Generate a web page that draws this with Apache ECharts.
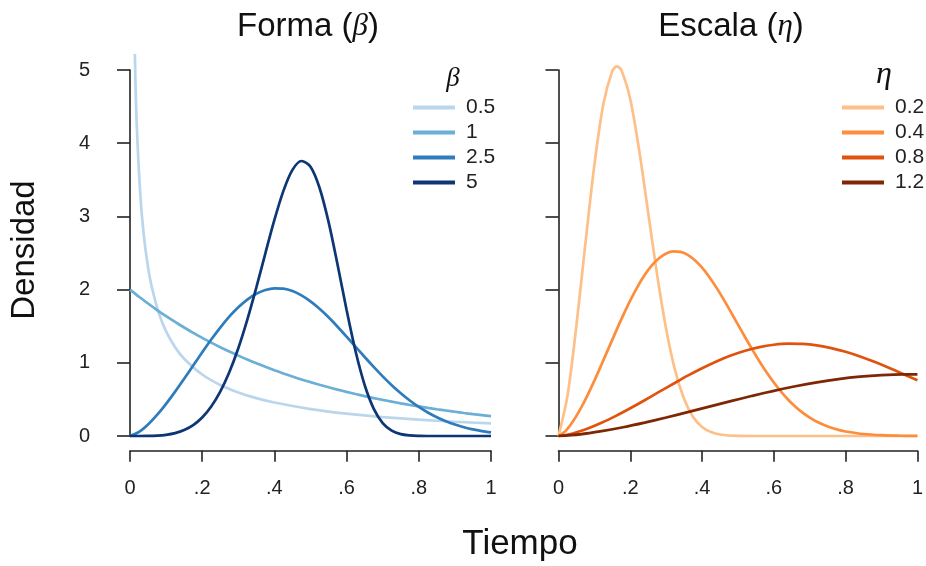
<!DOCTYPE html>
<html>
<head>
<meta charset="utf-8">
<script src="https://cdn.jsdelivr.net/npm/echarts@6/dist/echarts.min.js"></script>
<style>
html,body{margin:0;padding:0;background:#fff;}
#chart{width:926px;height:566px;}
</style>
</head>
<body>
<div id="chart"></div>
<script>
// ---- tick labels ----
const xTickLabels = ['0', '.2', '.4', '.6', '.8', '1'];
const yTickLabels = ['0', '1', '2', '3', '4', '5'];

// ---- legend names ----
const betaNames = ['0.5', '1', '2.5', '5'];
const etaNames = ['0.2', '0.4', '0.8', '1.2'];

// ---- left panel (Forma) ----
const gridX = [0,0.025,0.05,0.075,0.1,0.125,0.15,0.175,0.2,0.225,0.25,0.275,0.3,0.325,0.35,0.375,0.4,0.425,0.45,0.475,0.5,0.525,0.55,0.575,0.6,0.625,0.65,0.675,0.7,0.725,0.75,0.775,0.8,0.825,0.85,0.875,0.9,0.925,0.95,0.975,1];
const b05X = [0.01,0.015,0.02,0.03,0.04,0.05,0.06,0.08,0.1,0.125,0.15,0.2,0.25,0.3,0.35,0.4,0.5,0.6,0.7,0.8,0.9,1.0];
const b05Y = [6.139,4.855,4.094,3.195,2.665,2.305,2.042,1.676,1.430,1.213,1.056,0.840,0.697,0.595,0.518,0.457,0.368,0.305,0.259,0.223,0.195,0.172];
const b1Y = [2.000,1.902,1.810,1.721,1.637,1.558,1.482,1.409,1.341,1.275,1.213,1.154,1.098,1.044,0.993,0.945,0.899,0.855,0.813,0.773,0.736,0.700,0.666,0.633,0.602,0.573,0.545,0.518,0.493,0.469,0.446,0.424,0.404,0.384,0.365,0.348,0.331,0.314,0.299,0.285,0.271];
const b25Y = [0,0.056,0.158,0.288,0.439,0.606,0.782,0.963,1.143,1.318,1.481,1.630,1.758,1.864,1.943,1.995,2.018,2.013,1.980,1.921,1.839,1.738,1.622,1.493,1.357,1.218,1.079,0.944,0.815,0.694,0.584,0.485,0.397,0.321,0.256,0.201,0.156,0.120,0.090,0.067,0.049];
const b5Y = [0,0.000,0.001,0.005,0.016,0.039,0.081,0.149,0.253,0.403,0.606,0.870,1.199,1.590,2.030,2.496,2.952,3.349,3.635,3.757,3.679,3.392,2.925,2.340,1.722,1.154,0.697,0.375,0.177,0.073,0.025,0.008,0.002,0,0,0,0,0,0,0,0];

// ---- right panel (Escala) ----
const e02X = [0,0.025,0.05,0.075,0.1,0.125,0.15,0.1625,0.175,0.2,0.225,0.25,0.275,0.3,0.325,0.35,0.375,0.4,0.425,0.45,0.5,0.6,0.7,0.8,0.9,1.0];
const e02Y = [0,0.549,1.514,2.634,3.703,4.535,4.988,5.049,4.999,4.598,3.896,3.045,2.196,1.460,0.894,0.504,0.260,0.124,0.054,0.021,0.003,0,0,0,0,0];
const e04X = [0,0.02,0.04,0.06,0.08,0.1,0.12,0.14,0.16,0.18,0.2,0.22,0.24,0.26,0.28,0.3,0.32,0.34,0.36,0.38,0.4,0.42,0.44,0.46,0.48,0.5,0.52,0.54,0.56,0.58,0.6,0.62,0.64,0.66,0.68,0.7,0.72,0.74,0.76,0.78,0.8,0.85,0.9,0.95,1.0];
const e04Y = [0,0.070,0.197,0.360,0.549,0.757,0.978,1.204,1.429,1.647,1.852,2.037,2.198,2.330,2.429,2.494,2.523,2.516,2.475,2.401,2.299,2.173,2.027,1.866,1.696,1.522,1.349,1.180,1.018,0.868,0.730,0.606,0.496,0.401,0.320,0.252,0.195,0.150,0.113,0.084,0.062,0.027,0.011,0.004,0.001];
const e08X = [0,0.04,0.08,0.12,0.16,0.2,0.24,0.28,0.32,0.36,0.4,0.44,0.48,0.52,0.56,0.6,0.64,0.68,0.72,0.76,0.8,0.84,0.88,0.92,0.96,1.0];
const e08Y = [0,0.035,0.099,0.180,0.275,0.379,0.489,0.602,0.714,0.824,0.926,1.019,1.099,1.165,1.215,1.247,1.262,1.258,1.237,1.201,1.150,1.086,1.013,0.933,0.848,0.761];
const e12X = [0,0.06,0.12,0.18,0.24,0.3,0.36,0.42,0.48,0.54,0.6,0.66,0.72,0.78,0.84,0.9,0.96,1.0];
const e12Y = [0,0.023,0.066,0.120,0.183,0.252,0.326,0.401,0.476,0.549,0.617,0.679,0.733,0.777,0.810,0.831,0.841,0.841];

const blues = ['#bad6ec', '#6baed6', '#2e7cbc', '#0d3674'];
const oranges = ['#fdc088', '#fd8d3c', '#df530e', '#7f2704'];

const SANS = "'Liberation Sans', Arial, Helvetica, sans-serif";
const SERIF = "'Liberation Serif', 'DejaVu Serif', serif";
const INK = '#222';

function pairs(xs, ys) { return xs.map((x, i) => [x, ys[i]]); }

const leftSets = [[b05X, b05Y], [gridX, b1Y], [gridX, b25Y], [gridX, b5Y]];
const rightSets = [[e02X, e02Y], [e04X, e04Y], [e08X, e08Y], [e12X, e12Y]];

const dataTop = 55.36, dataH = 395.28;
const axisTop = 70, axisH = 366;
const panels = [{ left: 130, width: 361 }, { left: 558.5, width: 360 }];

const grids = [], xAxes = [], yAxes = [];
panels.forEach((p, i) => {
  grids.push({ left: p.left, width: p.width, top: dataTop, height: dataH });
  grids.push({ left: p.left, width: p.width, top: axisTop, height: axisH });
  xAxes.push({
    gridIndex: 2 * i, type: 'value', min: 0, max: 1, interval: 0.2,
    axisLine: { onZero: false, lineStyle: { color: INK, width: 1.6 } },
    axisTick: { length: 11, lineStyle: { color: INK, width: 1.6 } },
    axisLabel: { margin: 28, fontSize: 20, color: INK, fontFamily: SANS,
      formatter: v => xTickLabels[Math.round(v / 0.2)] },
    splitLine: { show: false }
  });
  xAxes.push({ gridIndex: 2 * i + 1, type: 'value', min: 0, max: 1, show: false });
  yAxes.push({ gridIndex: 2 * i, type: 'value', min: -0.2, max: 5.2, show: false });
  yAxes.push({
    gridIndex: 2 * i + 1, type: 'value', min: 0, max: 5, interval: 1,
    offset: i === 0 ? 14 : 15,
    axisLine: { show: true, lineStyle: { color: INK, width: 1.6 } },
    axisTick: { show: true, length: 13, lineStyle: { color: INK, width: 1.6 } },
    axisLabel: { show: i === 0, margin: 26, fontSize: 20, color: INK, fontFamily: SANS,
      formatter: v => yTickLabels[Math.round(v)] },
    splitLine: { show: false }
  });
});

const series = [];
leftSets.forEach((s, i) => {
  series.push({
    name: betaNames[i], type: 'line', xAxisIndex: 0, yAxisIndex: 0,
    data: pairs(s[0], s[1]), showSymbol: false, symbol: 'none', smooth: 0.3,
    color: blues[i], lineStyle: { width: 2.7, color: blues[i] }, clip: true
  });
});
rightSets.forEach((s, i) => {
  series.push({
    name: etaNames[i], type: 'line', xAxisIndex: 2, yAxisIndex: 2,
    data: pairs(s[0], s[1]), showSymbol: false, symbol: 'none', smooth: 0.3,
    color: oranges[i], lineStyle: { width: 2.7, color: oranges[i] }, clip: true
  });
});

const legendCommon = {
  orient: 'vertical', icon: 'rect', itemWidth: 42, itemHeight: 4, itemGap: 4,
  padding: 0, selectedMode: false,
  textStyle: { fontSize: 21, lineHeight: 21, color: INK, fontFamily: SANS, padding: [0, 0, 0, 6] }
};

const chart = echarts.init(document.getElementById('chart'), null, { renderer: 'canvas' });
chart.setOption({
  animation: false,
  backgroundColor: '#fff',
  grid: grids,
  xAxis: xAxes,
  yAxis: yAxes,
  legend: [
    Object.assign({ data: betaNames, left: 413, top: 97 }, legendCommon),
    Object.assign({ data: etaNames, left: 842, top: 97 }, legendCommon)
  ],
  series: series,
  graphic: [
    { type: 'text', x: 308, y: 27, style: {
      text: '{t|Forma }{p|(}{g|β}{p|)}', align: 'center', verticalAlign: 'middle',
      rich: { t: { fontSize: 33, fontFamily: SANS, fill: '#111' },
              p: { fontSize: 33, fontFamily: SANS, fill: '#111' },
              g: { fontSize: 31, fontFamily: SERIF, fontStyle: 'italic', fill: '#111' } } } },
    { type: 'text', x: 731, y: 27, style: {
      text: '{t|Escala }{p|(}{g|η}{p|)}', align: 'center', verticalAlign: 'middle',
      rich: { t: { fontSize: 33, fontFamily: SANS, fill: '#111' },
              p: { fontSize: 33, fontFamily: SANS, fill: '#111' },
              g: { fontSize: 31, fontFamily: SERIF, fontStyle: 'italic', fill: '#111' } } } },
    { type: 'text', x: 453, y: 79, style: { text: 'β', align: 'center', verticalAlign: 'middle',
      fontSize: 27, fontFamily: SERIF, fontStyle: 'italic', fill: '#111' } },
    { type: 'text', x: 884, y: 75, style: { text: 'η', align: 'center', verticalAlign: 'middle',
      fontSize: 32, fontFamily: SERIF, fontStyle: 'italic', fill: '#111' } },
    { type: 'text', x: 25, y: 250, rotation: Math.PI / 2, style: { text: 'Densidad', align: 'center',
      verticalAlign: 'middle', fontSize: 33, fontFamily: SANS, fill: '#111' } },
    { type: 'text', x: 520, y: 544, style: { text: 'Tiempo', align: 'center',
      verticalAlign: 'middle', fontSize: 35, fontFamily: SANS, fill: '#111' } }
  ]
});
</script>
</body>
</html>
